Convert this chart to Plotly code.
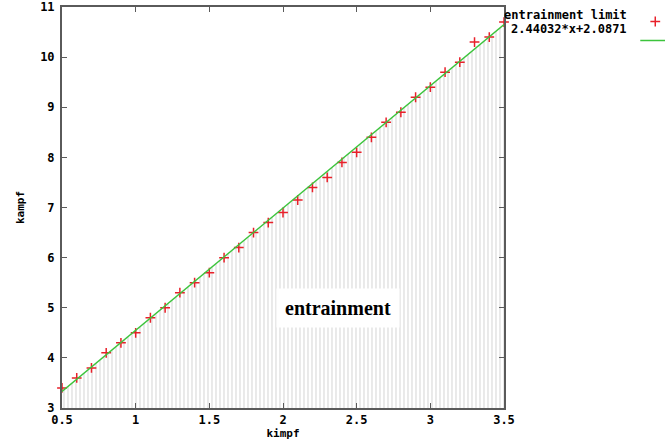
import plotly.graph_objects as go

kimpf = [0.5, 0.6, 0.7, 0.8, 0.9, 1.0, 1.1, 1.2, 1.3, 1.4, 1.5, 1.6, 1.7, 1.8, 1.9, 2.0,
         2.1, 2.2, 2.3, 2.4, 2.5, 2.6, 2.7, 2.8, 2.9, 3.0, 3.1, 3.2, 3.3, 3.4, 3.5]
kampf = [3.4, 3.6, 3.8, 4.1, 4.3, 4.5, 4.8, 5.0, 5.3, 5.5, 5.7, 6.0, 6.2, 6.5, 6.7, 6.9,
         7.15, 7.4, 7.6, 7.9, 8.1, 8.4, 8.7, 8.9, 9.2, 9.4, 9.7, 9.9, 10.3, 10.4, 10.7]

fit_x = [0.5, 3.5]
fit_y = [3.33, 10.65]

x_ticks = [0.5, 1, 1.5, 2, 2.5, 3, 3.5]
x_tick_labels = ["0.5", "1", "1.5", "2", "2.5", "3", "3.5"]
y_ticks = [3, 4, 5, 6, 7, 8, 9, 10, 11]

mono = "DejaVu Sans Mono"
axis_color = "#5a5a5a"

fig = go.Figure()

fig.add_trace(go.Scatter(
    x=fit_x, y=fit_y, mode="none", fill="tozeroy",
    fillpattern=dict(shape="|", size=4, solidity=0.3, fgcolor="#b8b8b8", bgcolor="white"),
    fillcolor="white", showlegend=False, hoverinfo="skip"))

fig.add_trace(go.Scatter(
    x=kimpf, y=kampf, mode="markers", name=" ",
    marker=dict(symbol="cross-thin", size=7, line=dict(color="#e8202a", width=1.5), color="#e8202a"),
    cliponaxis=False))

fig.add_trace(go.Scatter(
    x=fit_x, y=fit_y, mode="lines", name=" ",
    line=dict(color="#3cc43c", width=1.4)))

fig.add_annotation(x=2.37, y=5.0, xref="x", yref="y", text="<b>entrainment</b>",
                   showarrow=False, bgcolor="white", borderpad=8,
                   font=dict(family="Liberation Serif", size=20, color="black"))

fig.add_annotation(x=1.283, y=1.0, xref="paper", yref="paper", xanchor="right", yanchor="middle",
                   yshift=-8, text="<b>entrainment limit</b>", showarrow=False,
                   font=dict(family=mono, size=12, color="black"))
fig.add_annotation(x=1.283, y=1.0, xref="paper", yref="paper", xanchor="right", yanchor="middle",
                   yshift=-22, text="<b>2.44032*x+2.0871</b>", showarrow=False,
                   font=dict(family=mono, size=12, color="black"))

axis_common = dict(showgrid=False, zeroline=False, showline=True, linecolor=axis_color,
                   linewidth=2, mirror="ticks", ticks="inside", ticklen=5, tickwidth=1,
                   tickcolor=axis_color, automargin=False, ticklabeloverflow="allow",
                   tickfont=dict(family=mono, size=12, color="black"))

fig.update_xaxes(range=[0.5, 3.5], tickvals=x_ticks, ticktext=[f"<b>{t}</b>" for t in x_tick_labels],
                 title=dict(text="<b>kimpf</b>", font=dict(family=mono, size=11, color="black"), standoff=2),
                 **axis_common)
fig.update_yaxes(range=[3, 11], tickvals=y_ticks, ticktext=[f"<b>{t}</b>" for t in y_ticks],
                 ticklabelstandoff=3,
                 title=dict(text="<b>kampf</b>", font=dict(family=mono, size=11, color="black"), standoff=13),
                 **axis_common)

fig.update_layout(
    width=665, height=448,
    margin=dict(l=62, r=161, t=7, b=40, autoexpand=False),
    paper_bgcolor="white", plot_bgcolor="white",
    legend=dict(x=1.297, y=1.0, xanchor="left", yanchor="top", bgcolor="rgba(0,0,0,0)",
                font=dict(family=mono, size=12), itemwidth=30, tracegroupgap=0),
)

fig.write_html("out.html", config={"displayModeBar": False},
               post_script="document.body.style.margin='0';")
